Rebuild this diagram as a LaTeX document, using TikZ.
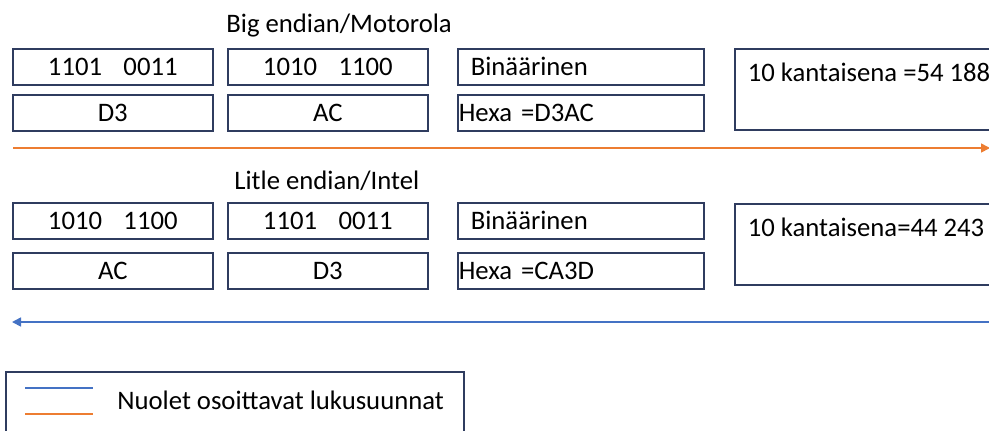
\documentclass[tikz,border=0pt]{standalone}
\usepackage{fontspec}
\setmainfont{Carlito}
\usetikzlibrary{arrows.meta}

\definecolor{boxline}{RGB}{47,60,95}
\definecolor{readorange}{RGB}{237,125,49}
\definecolor{readblue}{RGB}{68,114,196}

% gap between the two nibbles of a byte
\newcommand{\nibgap}{\hspace{0.8em}}

\tikzset{
  cell/.style={draw=boxline, line width=0.8pt, inner sep=0pt,
    minimum width=100pt, minimum height=18pt, anchor=north west},
  bincell/.style={cell, inner xsep=6.5pt, text width=110pt, align=left},
  hexcell/.style={cell, inner xsep=0.5pt, text width=122pt, align=left},
  deccell/.style={draw=boxline, line width=0.8pt, anchor=north west,
    inner xsep=6.5pt, inner ysep=0pt, text height=16.5pt, text depth=24pt},
  heading/.style={anchor=base west, inner sep=0pt},
  readarrow/.style={line width=0.8pt, -{Triangle[length=4.5pt,width=4.5pt]}},
}

\begin{document}
\begin{tikzpicture}[x=0.5pt, y=-0.5pt,
    every node/.style={font=\fontsize{13.35pt}{16pt}\selectfont}]
        % Page frame, boxes on the right run past it
        \clip (0,0) rectangle (989,430);

        % Big endian byte order
        \node [heading] (motTitle) at (226,32) {Big endian/Motorola};
        \node [cell] (motHiBits) at (12,48) {1101\nibgap 0011};
        \node [cell] (motLoBits) at (227,48) {1010\nibgap 1100};
        \node [bincell] (motBin) at (457,48) {Binäärinen};
        \node [cell] (motHiHex) at (12,94) {D3};
        \node [cell] (motLoHex) at (227,94) {AC};
        \node [hexcell] (motHex) at (457,94) {Hexa =D3AC};
        \node [deccell] (motDec) at (734,48) {10 kantaisena =54 188};

        \coordinate (motStart) at (13,148);
        \coordinate (motEnd) at (990,148);
        \draw [readarrow, readorange] (motStart) -- (motEnd);

        % Little endian byte order
        \node [heading] (intTitle) at (234,189) {Litle endian/Intel};
        \node [cell] (intHiBits) at (12,202) {1010\nibgap 1100};
        \node [cell] (intLoBits) at (227,202) {1101\nibgap 0011};
        \node [bincell] (intBin) at (457,202) {Binäärinen};
        \node [cell] (intHiHex) at (12,252) {AC};
        \node [cell] (intLoHex) at (227,252) {D3};
        \node [hexcell] (intHex) at (457,252) {Hexa =CA3D};
        \node [deccell] (intDec) at (734,203) {10 kantaisena=44 243};

        \coordinate (intStart) at (995,322);
        \coordinate (intEnd) at (12,322);
        \draw [readarrow, readblue] (intStart) -- (intEnd);

        % Legend
        \node [cell, minimum width=229pt, minimum height=40pt] (legend) at (5,371) {};
        \coordinate (keyBlueA) at (25,388);
        \coordinate (keyBlueB) at (93,388);
        \coordinate (keyOrangeA) at (25,414);
        \coordinate (keyOrangeB) at (93,414);
        \draw [readblue, line width=0.8pt] (keyBlueA) -- (keyBlueB);
        \draw [readorange, line width=0.8pt] (keyOrangeA) -- (keyOrangeB);
        \node [heading] (keyText) at (117,409) {Nuolet osoittavat lukusuunnat};

\end{tikzpicture}
\end{document}
